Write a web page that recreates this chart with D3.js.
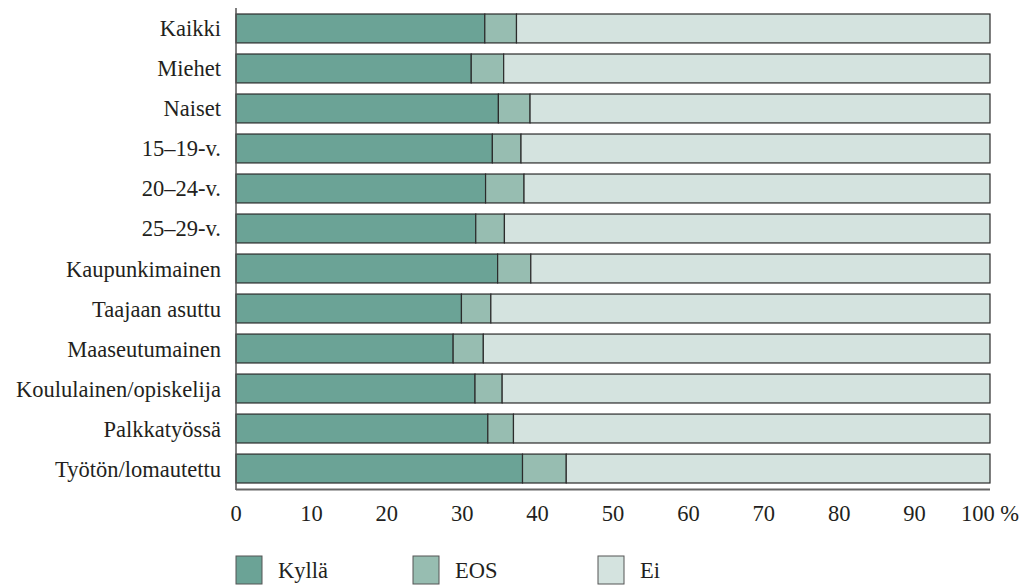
<!DOCTYPE html>
<html><head><meta charset="utf-8">
<script src="https://cdn.jsdelivr.net/npm/d3@7"></script>
</head><body style="margin:0"><svg id="c" width="1023" height="587"></svg>
<script>
const categories = ["Kaikki","Miehet","Naiset","15–19-v.","20–24-v.","25–29-v.","Kaupunkimainen","Taajaan asuttu","Maaseutumainen","Koululainen/opiskelija","Palkkatyössä","Työtön/lomautettu"];
const kylla = [33.0,31.2,34.8,34.0,33.1,31.8,34.7,29.9,28.8,31.7,33.4,38.0];
const eos   = [4.2,4.3,4.2,3.8,5.1,3.8,4.4,3.9,4.0,3.6,3.4,5.8];
const ei    = kylla.map((k,i)=>100-k-eos[i]);
const seriesNames = ["Kyllä","EOS","Ei"];
const seriesColors = ["#6ba396","#97bdb1","#d4e3df"];
const xTicks = [0,10,20,30,40,50,60,70,80,90,100];

const FONT = "Liberation Serif";
const FS = 22.5;
const svg = d3.select("#c");
const x = d3.scaleLinear().domain([0,100]).range([236,990]);
const y = d3.scaleBand().domain(categories).range([8,489]).paddingInner(0.277).paddingOuter(0.15);

const rows = categories.map((c,i)=>({cat:c, "Kyllä":kylla[i], "EOS":eos[i], "Ei":ei[i]}));
const stack = d3.stack().keys(seriesNames)(rows);

svg.append("g").selectAll("g").data(stack).join("g")
  .attr("fill",(d,i)=>seriesColors[i])
  .selectAll("rect").data(d=>d).join("rect")
  .attr("x",d=>x(d[0])).attr("width",d=>x(d[1])-x(d[0]))
  .attr("y",d=>y(d.data.cat)).attr("height",y.bandwidth())
  .attr("stroke","#2b2b2b").attr("stroke-width",1.2);

svg.append("line").attr("x1",x(0)).attr("x2",x(0)).attr("y1",8).attr("y2",490)
  .attr("stroke","#555").attr("stroke-width",1.5);
svg.append("line").attr("x1",x(0)).attr("x2",x(100)).attr("y1",489.5).attr("y2",489.5)
  .attr("stroke","#666").attr("stroke-width",2);

function addText(sel){
  return sel.attr("font-size",FS).attr("font-family",FONT).style("font-family",FONT).attr("fill","#231f20");
}

categories.forEach(c=>{
  addText(svg.append("text")).attr("x",221).attr("y",y(c)+y.bandwidth()/2+8)
    .attr("text-anchor","end").text(c);
});

xTicks.forEach(v=>{
  addText(svg.append("text")).attr("x",x(v)).attr("y",521)
    .attr("text-anchor","middle").text(v===100?"100 %":String(v));
});

const legX = [236,413,598];
seriesNames.forEach((s,i)=>{
  svg.append("rect").attr("x",legX[i]).attr("y",556).attr("width",26).attr("height",28)
    .attr("fill",seriesColors[i]).attr("stroke","#555").attr("stroke-width",1);
  addText(svg.append("text")).attr("x",legX[i]+42).attr("y",578).text(s);
});
</script></body></html>
